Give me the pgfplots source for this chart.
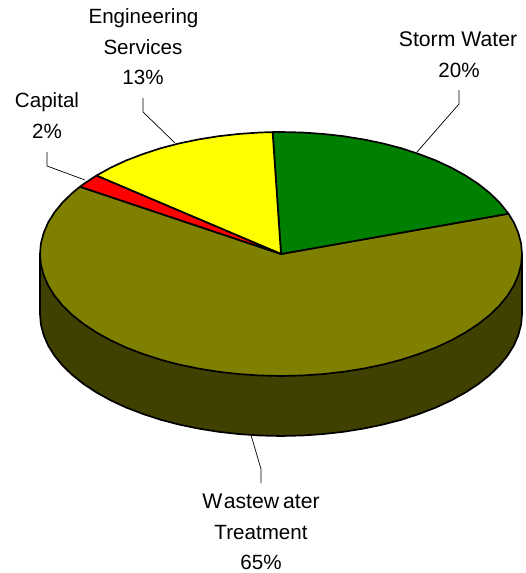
\documentclass[border=0pt]{standalone}
\usepackage{pgfplots}
\pgfplotsset{compat=1.18}
\usepackage{fontspec}
\setmainfont{Liberation Sans}
\definecolor{cgreen}{RGB}{0,128,0}
\definecolor{cyellow}{RGB}{255,255,0}
\definecolor{cred}{RGB}{255,0,0}
\definecolor{colive}{RGB}{128,128,0}
\definecolor{cdark}{RGB}{64,64,0}
\tikzset{lab/.style={anchor=base, font=\fontsize{20.6}{24}\selectfont, text=black, inner sep=0pt}}
\begin{document}
\begin{tikzpicture}
\useasboundingbox (0,0) rectangle (526pt,573pt);
\begin{axis}[
  at={(0,0)}, anchor=south west,
  scale only axis, width=526pt, height=573pt,
  xmin=0, xmax=526, ymin=0, ymax=573, y dir=reverse,
  hide axis, clip=false, no markers,
  every axis plot/.append style={line join=round, forget plot},
]
% side wall
\addplot[fill=cdark, draw=black, line width=1.7pt] coordinates {
(40,254)(40,314)(40.9,324.6)(43.7,335.2)(48.2,345.6)(54.5,355.7)(62.6,365.6)(72.3,375)(83.6,384)(96.4,392.4)(110.6,400.3)(126.1,407.5)(142.8,413.9)(160.5,419.7)(179.2,424.6)(198.6,428.6)(218.6,431.8)(239.2,434.1)(260,435.5)(281,436)(302,435.5)(322.8,434.1)(343.4,431.8)(363.4,428.6)(382.8,424.6)(401.5,419.7)(419.2,413.9)(435.9,407.5)(451.4,400.3)(465.6,392.4)(478.4,384)(489.7,375)(499.4,365.6)(507.5,355.7)(513.8,345.6)(518.3,335.2)(521.1,324.6)(522,314)(522,254)
} -- cycle;
% Wastewater Treatment
\addplot[fill=colive, draw=black, line width=1.7pt] coordinates {
(281,254)(80,186.7)(72.3,193)(62.6,202.4)(54.5,212.3)(48.2,222.4)(43.7,232.8)(40.9,243.4)(40,254)(40.9,264.6)(43.7,275.2)(48.2,285.6)(54.5,295.7)(62.6,305.6)(72.3,315)(83.6,324)(96.4,332.4)(110.6,340.3)(126.1,347.5)(142.8,353.9)(160.5,359.7)(179.2,364.6)(198.6,368.6)(218.6,371.8)(239.2,374.1)(260,375.5)(281,376)(302,375.5)(322.8,374.1)(343.4,371.8)(363.4,368.6)(382.8,364.6)(401.5,359.7)(419.2,353.9)(435.9,347.5)(451.4,340.3)(465.6,332.4)(478.4,324)(489.7,315)(499.4,305.6)(507.5,295.7)(513.8,285.6)(518.3,275.2)(521.1,264.6)(522,254)(521.1,243.4)(518.3,232.8)(513.8,222.4)(508.5,213.7)
} -- cycle;
% Storm Water
\addplot[fill=cgreen, draw=black, line width=1.7pt] coordinates {
(281,254)(508.5,213.7)(499.4,202.4)(489.7,193)(478.4,184)(465.6,175.6)(451.4,167.7)(435.9,160.5)(419.2,154.1)(401.5,148.3)(382.8,143.4)(363.4,139.4)(343.4,136.2)(322.8,133.9)(302,132.5)(281,132)(272.6,132.1)
} -- cycle;
% Engineering Services
\addplot[fill=cyellow, draw=black, line width=1.7pt] coordinates {
(281,254)(272.6,132.1)(260,132.5)(239.2,133.9)(218.6,136.2)(198.6,139.4)(179.2,143.4)(160.5,148.3)(142.8,154.1)(126.1,160.5)(110.6,167.7)(96.4,175.6)
} -- cycle;
% Capital
\addplot[fill=cred, draw=black, line width=1.7pt] coordinates {
(281,254)(96.4,175.6)(83.6,184)(80,186.7)
} -- cycle;
% leaders
\addplot[black, line width=0.7pt] coordinates {(47,152)(47,166)(85,180)};
\addplot[black, line width=0.7pt] coordinates {(143,98)(143,112)(175,143)};
\addplot[black, line width=0.7pt] coordinates {(459,90)(459,104)(417,152)};
\addplot[black, line width=0.7pt] coordinates {(251,435)(261,469)(261,483)};
% labels
\node[lab] at (axis cs:143.5,23.5) {Engineering};
\node[lab] at (axis cs:143,54) {Services};
\node[lab] at (axis cs:143,84) {13\%};
\node[lab] at (axis cs:47,107) {Capital};
\node[lab] at (axis cs:47,138) {2\%};
\node[lab] at (axis cs:458,46) {\fontsize{21.2}{24}\selectfont Storm Water};
\node[lab] at (axis cs:459,77) {20\%};
\node[lab] at (axis cs:261,508) {\fontsize{21.2}{24}\selectfont W\kern1.5pt astew\kern4pt ater};
\node[lab] at (axis cs:261,539) {Treatment};
\node[lab] at (axis cs:261,569) {65\%};
\end{axis}
\end{tikzpicture}
\end{document}
